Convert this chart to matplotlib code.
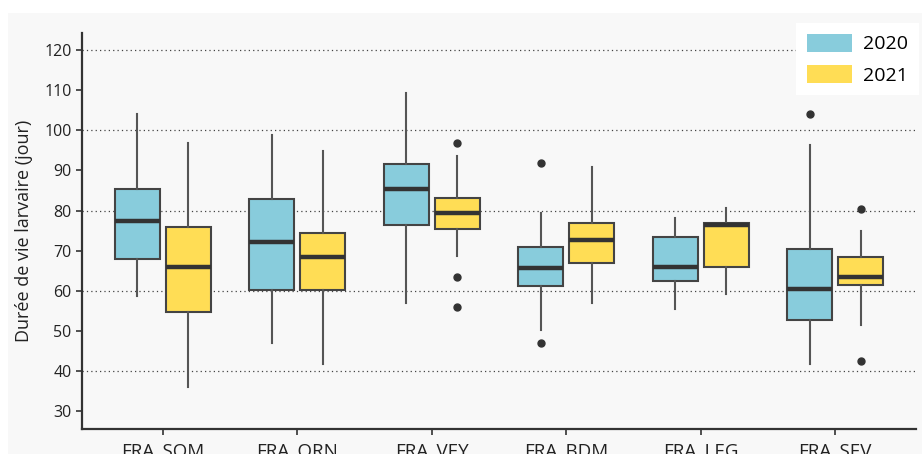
import matplotlib
matplotlib.use("Agg")
import matplotlib.pyplot as plt
from matplotlib.patches import Patch, Rectangle
import numpy as np

plt.rcParams['font.family'] = ['Open Sans', 'DejaVu Sans']

sites = ["FRA_SOM", "FRA_ORN", "FRA_VEY", "FRA_BDM", "FRA_LEG", "FRA_SEV"]
years = ["2020", "2021"]

# five-number summaries: low whisker, Q1, median, Q3, high whisker
whislo_2020 = [58.6, 47.0, 56.9, 50.2, 55.5, 41.7]
q1_2020 = [67.8, 60.2, 76.3, 61.3, 62.5, 52.6]
med_2020 = [77.4, 72.1, 85.4, 65.6, 65.9, 60.5]
q3_2020 = [85.3, 82.8, 91.5, 71.0, 73.5, 70.4]
whishi_2020 = [104.2, 98.8, 109.3, 79.3, 78.2, 96.3]
fliers_2020 = [[], [], [], [91.8, 46.9], [], [104.2]]

whislo_2021 = [36.1, 41.7, 68.6, 56.9, 59.2, 51.5]
q1_2021 = [54.6, 60.2, 75.4, 67.0, 65.8, 61.4]
med_2021 = [65.9, 68.5, 79.4, 72.7, 76.4, 63.4]
q3_2021 = [76.0, 74.3, 83.1, 76.8, 76.8, 68.4]
whishi_2021 = [96.9, 94.8, 93.7, 90.8, 80.7, 74.8]
fliers_2021 = [[], [], [96.9, 63.3, 55.9], [], [], [80.4, 42.4]]

colors = {"2020": "#88CCDC", "2021": "#FFDD55"}

series = {
    "2020": (whislo_2020, q1_2020, med_2020, q3_2020, whishi_2020, fliers_2020),
    "2021": (whislo_2021, q1_2021, med_2021, q3_2021, whishi_2021, fliers_2021),
}

fig = plt.figure(figsize=(9.22, 4.54), dpi=100)
fig.patch.set_facecolor("white")
# light grey panel behind the plot
fig.patches.append(Rectangle((8 / 922, 0), 1, 1 - 13 / 454, transform=fig.transFigure,
                             facecolor="#F8F8F8", edgecolor="none", zorder=-10))
ax = fig.add_axes([82 / 922, 25 / 454, (916 - 82) / 922, (429 - 33) / 454])
ax.set_facecolor("#F8F8F8")

x = np.arange(len(sites))
offsets = {"2020": -0.19, "2021": 0.19}
for yr in years:
    lo, q1, med, q3, hi, fl = series[yr]
    stats = [dict(whislo=lo[i], q1=q1[i], med=med[i], q3=q3[i], whishi=hi[i], fliers=fl[i])
             for i in range(len(sites))]
    ax.bxp(stats, positions=x + offsets[yr], widths=0.335, patch_artist=True,
           showcaps=False, manage_ticks=False,
           boxprops=dict(facecolor=colors[yr], edgecolor="#444444", linewidth=1.5),
           medianprops=dict(color="#333333", linewidth=3.2),
           whiskerprops=dict(color="#555555", linewidth=1.5),
           flierprops=dict(marker="o", markerfacecolor="#333333", markeredgecolor="#333333",
                           markersize=5),
           zorder=3)

for g in [40, 60, 80, 100, 120]:
    ax.axhline(g, color="#444444", linestyle=(0, (1, 2.5)), linewidth=0.9, zorder=1)

ax.set_xlim(-0.6, 5.6)
ax.set_ylim(25.5, 124.3)
ax.set_yticks(np.arange(30, 121, 10))
ax.set_xticks(x)
ax.set_xticklabels(sites)
ax.tick_params(axis="both", labelsize=11.5, color="#333333", width=1.2, length=4,
               labelcolor="#222222")
ax.tick_params(axis="x", pad=6, labelsize=13.5)
ax.set_ylabel("Durée de vie larvaire (jour)", fontsize=13, color="#222222", labelpad=8)

for s in ["top", "right"]:
    ax.spines[s].set_visible(False)
for s in ["left", "bottom"]:
    ax.spines[s].set_color("#333333")
    ax.spines[s].set_linewidth(1.6)

handles = [Patch(facecolor=colors[yr], edgecolor="none", label=yr) for yr in years]
leg = ax.legend(handles=handles, loc="upper right", bbox_to_anchor=(1.0036, 1.025),
                borderaxespad=0, fontsize=14, frameon=True, fancybox=False, framealpha=1,
                handlelength=2.3, handleheight=1.05, handletextpad=0.6,
                borderpad=0.55, labelspacing=0.6)
leg.get_frame().set_edgecolor("none")
leg.get_frame().set_facecolor("white")
leg.set_zorder(5)

fig.savefig("out.png", dpi=100, facecolor=fig.get_facecolor())
